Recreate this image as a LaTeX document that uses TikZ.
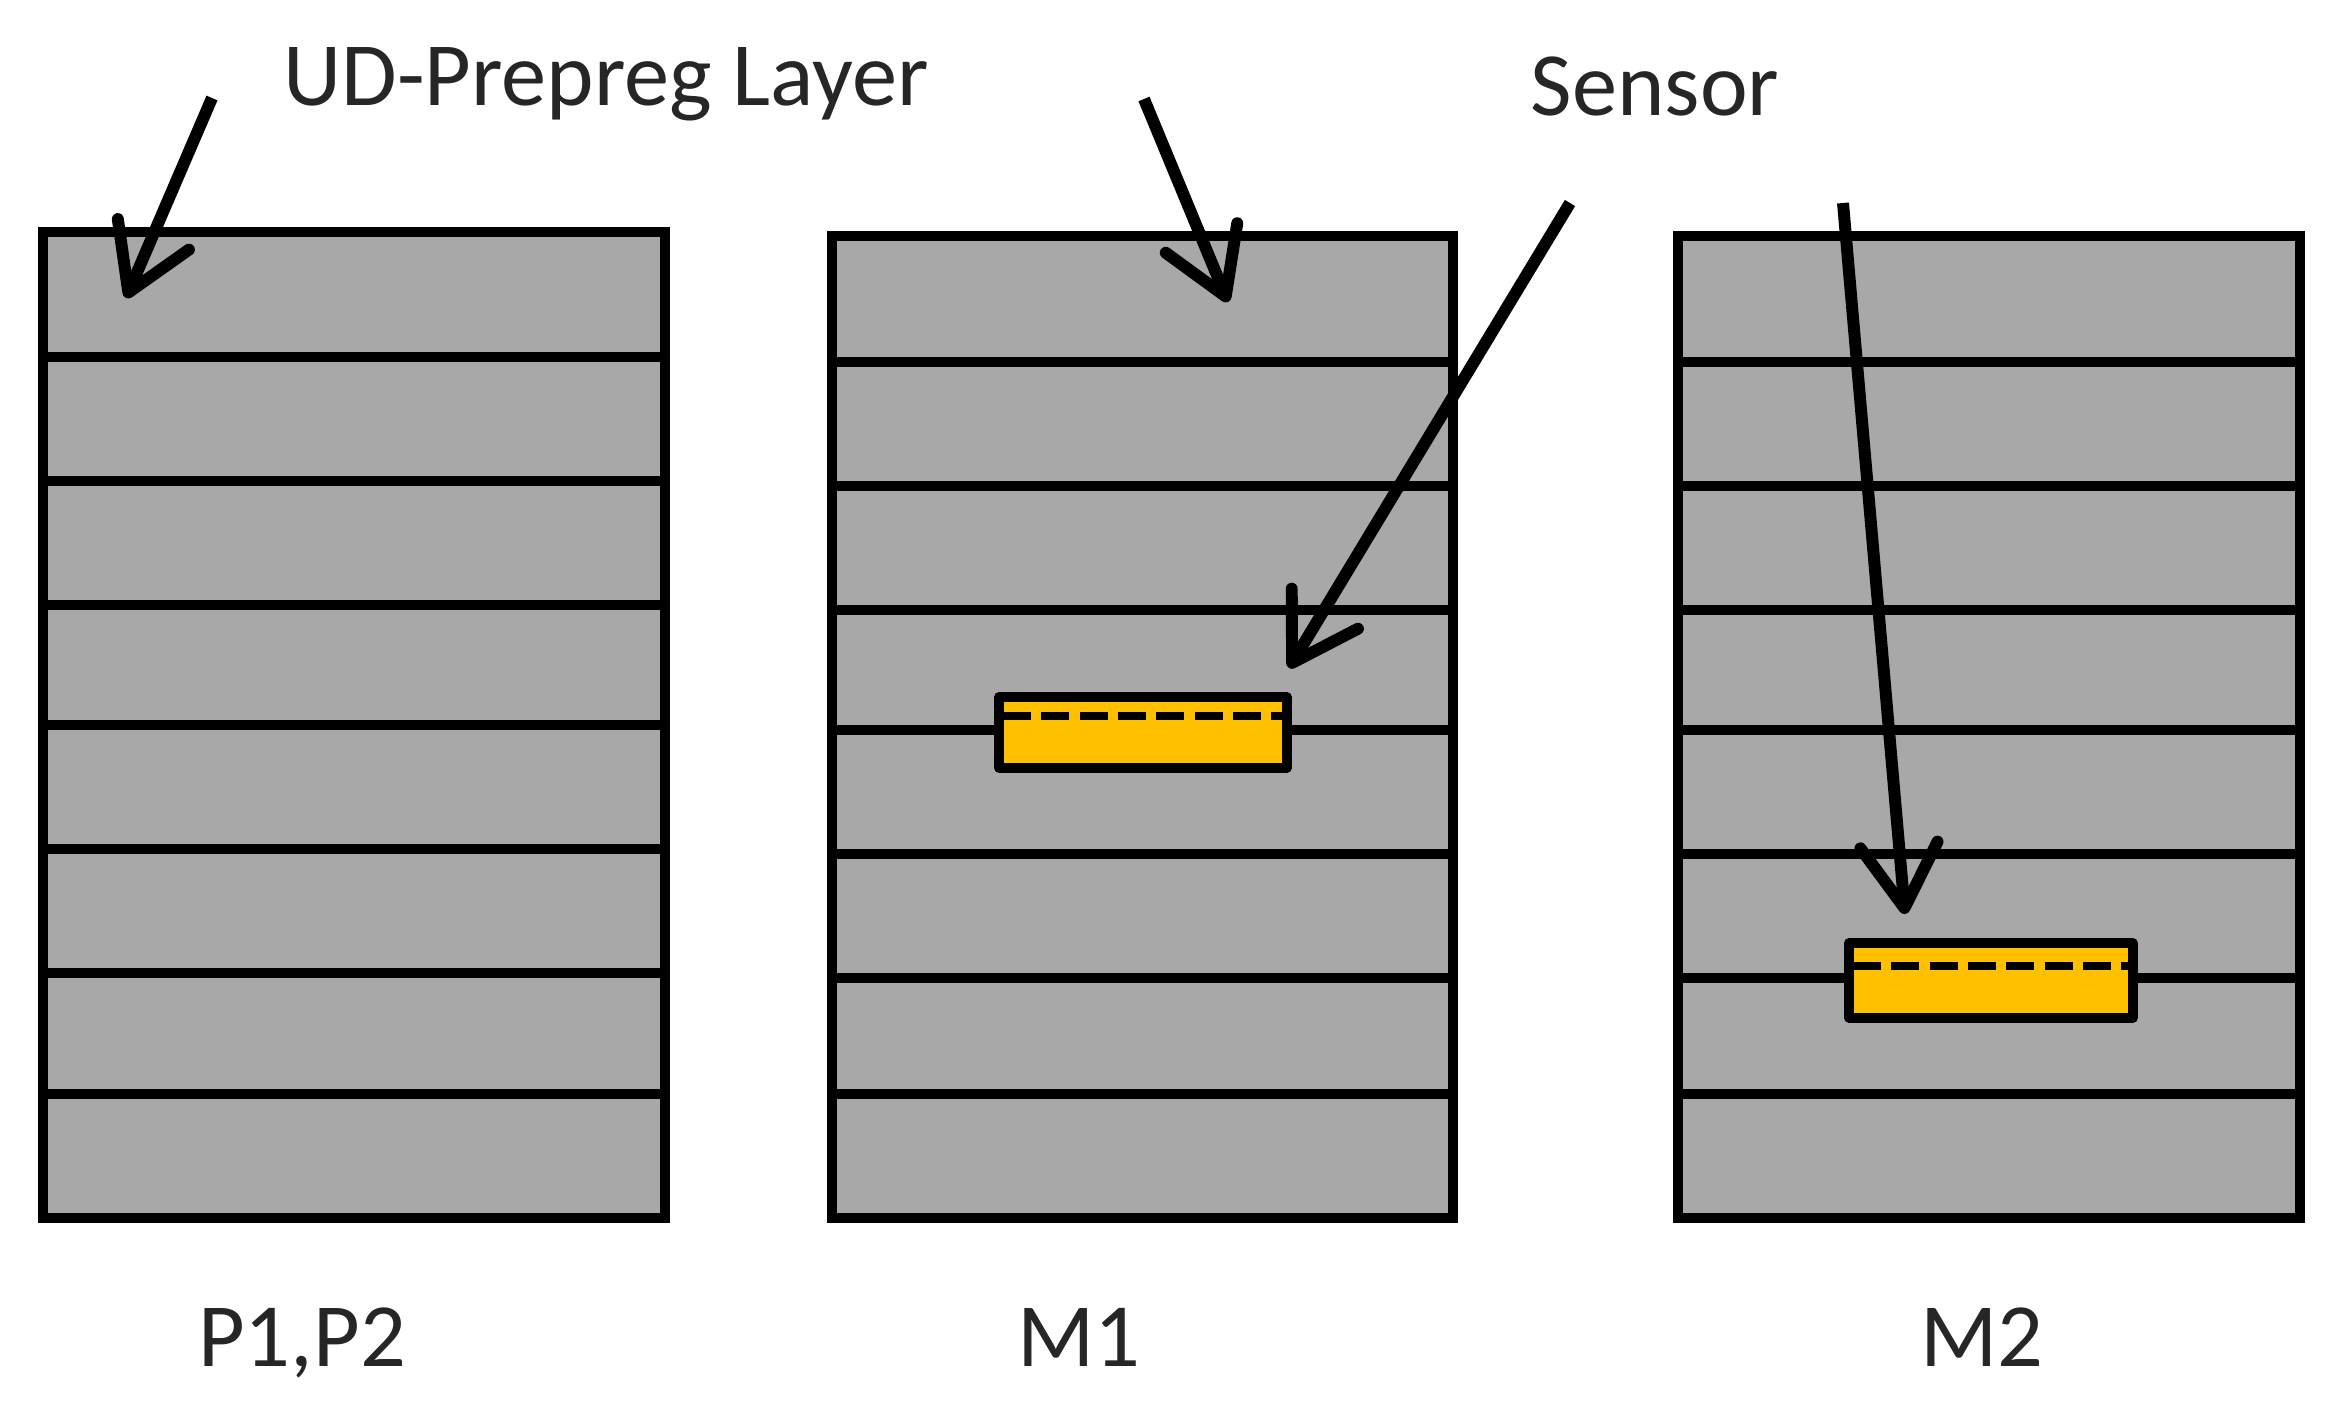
\documentclass[tikz,border=0pt]{standalone}
\usepackage{fontspec}
\setmainfont{Carlito}
\usepackage{xcolor}
\usetikzlibrary{arrows.meta}
\definecolor{plygray}{HTML}{A8A8A8}
\definecolor{sensoryellow}{HTML}{FFC000}
\tikzset{
 ply/.style={draw=black,fill=plygray,line width=2.6pt},
 plyline/.style={line width=2.6pt},
 sensorbox/.style={draw=black,fill=sensoryellow,line width=2.6pt,line join=round},
 sensorcut/.style={line width=2pt,dash pattern=on 8pt off 2.9pt},
 pointer/.style={line width=3.4pt,-{Straight Barb[length=18pt,width=22pt,round]}},
 caption/.style={font=\fontsize{25.7}{30}\selectfont,text=black!85,inner sep=0pt,anchor=base}
}
\begin{document}
\begin{tikzpicture}[x=0.01cm,y=-0.01cm]
\useasboundingbox (0,0) rectangle (2344,1406);
\fill[white] (0,0) rectangle (2344,1406);
\begin{scope}
 \draw[ply] (43,232) rectangle (665,1218);
 \draw[plyline] (43,357) -- (665,357);
 \draw[plyline] (43,481) -- (665,481);
 \draw[plyline] (43,605) -- (665,605);
 \draw[plyline] (43,725) -- (665,725);
 \draw[plyline] (43,849) -- (665,849);
 \draw[plyline] (43,973) -- (665,973);
 \draw[plyline] (43,1094) -- (665,1094);
\end{scope}
\begin{scope}
 \draw[ply] (832,236) rectangle (1453,1218);
 \draw[plyline] (832,362) -- (1453,362);
 \draw[plyline] (832,486) -- (1453,486);
 \draw[plyline] (832,610) -- (1453,610);
 \draw[plyline] (832,730) -- (1453,730);
 \draw[plyline] (832,854) -- (1453,854);
 \draw[plyline] (832,978) -- (1453,978);
 \draw[plyline] (832,1094) -- (1453,1094);
 \draw[sensorbox] (999,697) rectangle (1287,768);
 \draw[sensorcut] (1003,716) -- (1283,716);
\end{scope}
\begin{scope}
 \draw[ply] (1678,236) rectangle (2300,1218);
 \draw[plyline] (1678,362) -- (2300,362);
 \draw[plyline] (1678,486) -- (2300,486);
 \draw[plyline] (1678,610) -- (2300,610);
 \draw[plyline] (1678,730) -- (2300,730);
 \draw[plyline] (1678,854) -- (2300,854);
 \draw[plyline] (1678,978) -- (2300,978);
 \draw[plyline] (1678,1094) -- (2300,1094);
 \draw[sensorbox] (1849,943) rectangle (2133,1018);
 \draw[sensorcut] (1853,966) -- (2129,966);
\end{scope}
\node[caption] (ud) at (606,106) {UD-Prepreg Layer};
\node[caption] (sensor) at (1655,115) {Sensor};
\node[caption] (pp) at (302,1366) {P1,P2};
\node[caption] (mone) at (1079,1366) {M1};
\node[caption] (mtwo) at (1982,1366) {M2};
\coordinate (a1s) at (212,98);
\coordinate (a1e) at (126,298);
\coordinate (a2s) at (1144,99);
\coordinate (a2e) at (1228,302);
\coordinate (a3s) at (1570,203);
\coordinate (a3e) at (1289,668);
\coordinate (a4s) at (1843,203);
\coordinate (a4e) at (1905,914);
\draw[pointer] (a1s) -- (a1e);
\draw[pointer] (a2s) -- (a2e);
\draw[pointer] (a3s) -- (a3e);
\draw[pointer] (a4s) -- (a4e);
\end{tikzpicture}
\end{document}
